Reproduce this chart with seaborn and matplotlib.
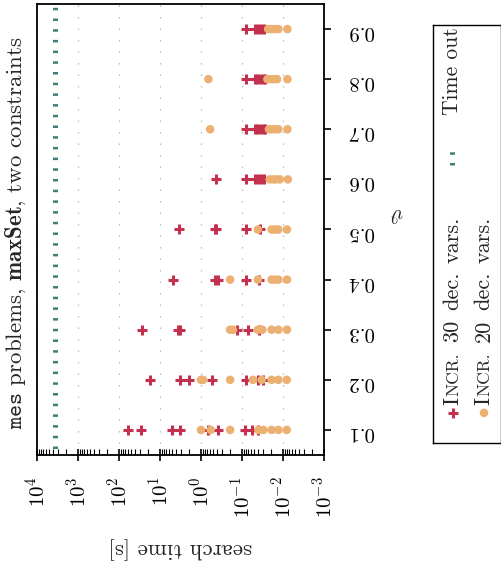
import matplotlib
matplotlib.use('Agg')
import matplotlib.pyplot as plt
from matplotlib.ticker import LogLocator
import pandas as pd
import seaborn as sns

# theta levels (vertical axis)
theta = [0.1, 0.2, 0.3, 0.4, 0.5, 0.6, 0.7, 0.8, 0.9]

# search times [s], one list per theta
incr30 = [
    [59, 29.5, 5.1, 3.2, 0.68, 0.38, 0.085, 0.058, 0.041],
    [18, 3.2, 2.0, 0.55, 0.078, 0.041, 0.031],
    [28, 3.6, 3.2, 0.13, 0.071, 0.039],
    [4.9, 0.46, 0.39, 0.078, 0.039],
    [3.5, 0.46, 0.43, 0.078, 0.037],
    [0.43, 0.078, 0.048, 0.041, 0.035, 0.029],
    [0.078, 0.048, 0.042, 0.036, 0.031, 0.027],
    [0.078, 0.049, 0.042, 0.036, 0.031, 0.027],
    [0.078, 0.048, 0.041, 0.035, 0.029],
]
incr20 = [
    [1.0, 0.58, 0.195, 0.040, 0.030, 0.019, 0.013, 0.0081],
    [1.0, 0.89, 0.195, 0.054, 0.033, 0.019, 0.013, 0.0081],
    [0.195, 0.166, 0.041, 0.032, 0.019, 0.013, 0.008],
    [0.195, 0.041, 0.019, 0.016, 0.013, 0.008],
    [0.041, 0.019, 0.016, 0.013, 0.008],
    [0.021, 0.017, 0.015, 0.012, 0.0076],
    [0.6, 0.022, 0.019, 0.016, 0.013, 0.0078],
    [0.66, 0.024, 0.020, 0.017, 0.014, 0.0078],
    [0.023, 0.019, 0.016, 0.013, 0.0078],
]
timeout = 3600

red = '#c4314f'
orange = '#ecb172'
teal = '#3e7f7b'


def long_form(values):
    rows = []
    for th, times in zip(theta, values):
        for t in times:
            rows.append({'theta': th, 'time': t})
    return pd.DataFrame(rows)


df30 = long_form(incr30)
df20 = long_form(incr20)

sns.set_style('ticks')
plt.rcParams['font.family'] = 'cmr10'
plt.rcParams['mathtext.fontset'] = 'cm'
plt.rcParams['axes.formatter.use_mathtext'] = True
plt.rcParams['font.size'] = 15

fig = plt.figure(figsize=(5.02, 5.67), dpi=100)
ax = fig.add_axes([37 / 502, 1 - 455 / 567, 287 / 502, 451 / 567])
ax.set_xscale('log')

# time out marker line
ax.axvline(timeout, color=teal, lw=3.6, ls=(0.84, (0.5, 1.64)), zorder=2)

sns.scatterplot(data=df30, x='time', y='theta', marker='+', s=55, color=red,
                linewidth=2.2, ax=ax, legend=False, zorder=3)
sns.scatterplot(data=df20, x='time', y='theta', marker='o', s=38, color=orange,
                edgecolor='none', ax=ax, legend=False, zorder=4)

ax.set_xlim(1e4, 1e-3)
ax.set_ylim(0.05, 0.95)
ax.xaxis.set_major_locator(LogLocator(base=10, numticks=20))
ax.xaxis.set_minor_locator(LogLocator(base=10, subs=range(2, 10), numticks=100))
ax.set_yticks(theta)
ax.set_yticklabels([f'{t:.1f}' for t in theta])

ax.grid(axis='x', which='major', color='#bdbdbd', lw=0.9, ls=(0, (1.2, 8)))
ax.grid(axis='x', which='minor', visible=False)
for sp in ax.spines.values():
    sp.set_linewidth(1.3)
    sp.set_color('black')

ax.tick_params(axis='x', which='major', direction='inout', length=9, width=1.2,
               labelrotation=90, pad=11, top=False, colors='black')
ax.tick_params(axis='x', which='minor', direction='in', length=4, width=0.8,
               top=False, colors='black')
ax.tick_params(axis='y', which='both', left=False, right=True, labelleft=False,
               labelright=True, direction='out', length=5, width=1.2,
               labelrotation=180, pad=12, colors='black')

ax.set_xlabel('search time [s]', rotation=180, fontsize=16.5)
ax.xaxis.set_label_coords(0.498, -0.206)
ax.xaxis.label.set_va('center')
ax.set_ylabel(r'$\vartheta$', rotation=180)
ax.yaxis.set_label_position('right')
ax.yaxis.set_label_coords(1.254, 0.537)
ax.yaxis.label.set_ha('center')
ax.yaxis.label.set_va('center')

fig.text(0.032, 0.589, r'$\mathtt{mes}$ problems, $\mathbf{maxSet}$, two constraints',
         rotation=90, ha='center', va='center', fontsize=16.5)

# legend drawn sideways in its own box
lax = fig.add_axes([433 / 502, 1 - 443 / 567, 68 / 502, 418 / 567])
lax.set_xlim(0, 1)
lax.set_ylim(0, 1)
lax.set_xticks([])
lax.set_yticks([])
for sp in lax.spines.values():
    sp.set_linewidth(1.0)
    sp.set_color('black')

lax.scatter([0.294], [0.072], marker='+', s=55, lw=2.2, color=red)
lax.scatter([0.75], [0.072], marker='o', s=38, color=orange, edgecolor='none')
lax.plot([0.28, 0.28], [0.665, 0.715], color=teal, lw=3.6, ls=(0, (0.5, 1.64)))


def rotated_label(x, y, parts):
    prev = None
    for txt, size, gap in parts:
        if prev is None:
            prev = lax.text(x, y, txt, rotation=90, rotation_mode='anchor', ha='left',
                            va='baseline', fontsize=size, transform=lax.transAxes)
        else:
            prev = lax.annotate(txt, xy=(x, 1), xycoords=(lax.transAxes, prev),
                                xytext=(0, gap), textcoords='offset points',
                                rotation=90, rotation_mode='anchor', ha='left',
                                va='baseline', fontsize=size)


rotated_label(0.37, 0.091, [('I', 16, 0), ('NCR.', 12.5, 0.5), ('30', 16, 8),
                            ('dec.', 16, 6.5), ('vars.', 16, 6.5)])
rotated_label(0.83, 0.091, [('I', 16, 0), ('NCR.', 12.5, 0.5), ('20', 16, 8),
                            ('dec.', 16, 6.5), ('vars.', 16, 6.5)])
rotated_label(0.37, 0.785, [('Time out', 15.5, 0)])

fig.savefig('out.png', dpi=100)
